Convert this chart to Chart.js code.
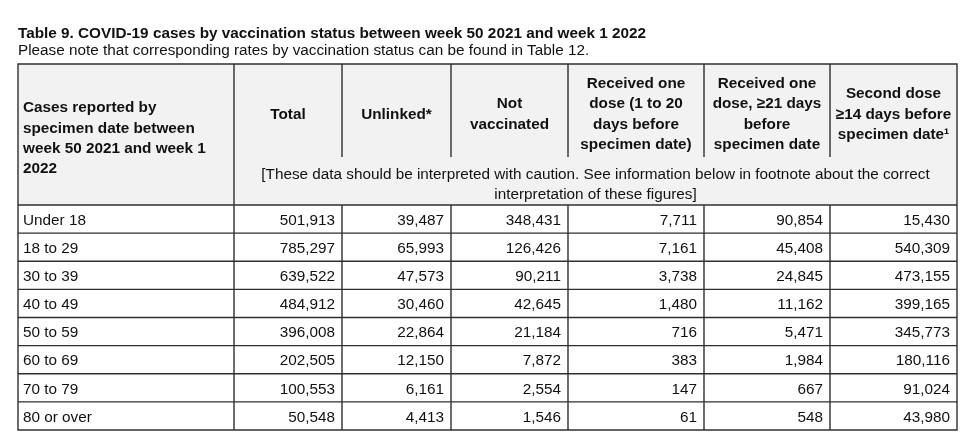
<!DOCTYPE html>
<html>
<head>
<meta charset="utf-8">
<title>Table 9</title>
<script src="https://cdn.jsdelivr.net/npm/chart.js@4.4.1/dist/chart.umd.min.js"></script>
<style>
  body { margin: 0; background: #fff; font-family: "Liberation Sans", Arial, sans-serif; color: #111; }
  #wrap { position: relative; width: 972px; height: 437px; overflow: hidden; }
  #tableChart { position: absolute; left: 0; top: 0; }
  .title, .subtitle { position: absolute; left: 18px; white-space: nowrap; font-size: 15.3px; line-height: 18px; }
  .title { top: 24px; font-weight: bold; }
  .subtitle { top: 41px; }
</style>
</head>
<body>
<div id="wrap">
  <canvas id="tableChart" width="972" height="437"></canvas>
  <div class="title">Table 9. COVID-19 cases by vaccination status between week 50 2021 and week 1 2022</div>
  <div class="subtitle">Please note that corresponding rates by vaccination status can be found in Table 12.</div>
</div>
<script>
// row categories
const ageGroups = ["Under 18", "18 to 29", "30 to 39", "40 to 49", "50 to 59", "60 to 69", "70 to 79", "80 or over"];

// column series
const totalCases = [501913, 785297, 639522, 484912, 396008, 202505, 100553, 50548];
const unlinked = [39487, 65993, 47573, 30460, 22864, 12150, 6161, 4413];
const notVaccinated = [348431, 126426, 90211, 42645, 21184, 7872, 2554, 1546];
const oneDoseUnder21 = [7711, 7161, 3738, 1480, 716, 383, 147, 61];
const oneDose21Plus = [90854, 45408, 24845, 11162, 5471, 1984, 667, 548];
const secondDose14 = [15430, 540309, 473155, 399165, 345773, 180116, 91024, 43980];

// header texts
const rowHeader = ["Cases reported by", "specimen date between", "week 50 2021 and week 1", "2022"];
const columnHeaders = [
  ["Total"],
  ["Unlinked*"],
  ["Not", "vaccinated"],
  ["Received one", "dose (1 to 20", "days before", "specimen date)"],
  ["Received one", "dose, \u226521 days", "before", "specimen date"],
  ["Second dose", "\u226514 days before", "specimen date\u00b9"],
];
const cautionLines = [
  "[These data should be interpreted with caution. See information below in footnote about the correct",
  "interpretation of these figures]",
];

const series = [totalCases, unlinked, notVaccinated, oneDoseUnder21, oneDose21Plus, secondDose14];

// layout (table units = px widths of columns)
const colEdges = [0, 216, 324, 433, 550, 686, 812, 939];
const headerHeight = 141;
const headerCellHeight = 93;
const FONT = '"Liberation Sans", Arial, sans-serif';
const FONT_SIZE = "15.3px ";
const LINE = "#303030";

const tablePlugin = {
  id: "tableDraw",
  beforeDatasetsDraw(chart) {
    const { ctx, chartArea } = chart;
    const x = chart.scales.x;
    const y = chart.scales.y;
    const left = x.getPixelForValue(colEdges[0]);
    const right = x.getPixelForValue(colEdges[colEdges.length - 1]);
    const band = y.getPixelForValue(1) - y.getPixelForValue(0);
    const top = chartArea.top - headerHeight;
    const bottom = y.getPixelForValue(ageGroups.length - 1) + band / 2;

    ctx.save();
    // header background
    ctx.fillStyle = "#f2f2f2";
    ctx.fillRect(left, top, right - left, headerHeight);

    // header text
    ctx.fillStyle = "#111";
    ctx.font = "bold " + FONT_SIZE + FONT;
    ctx.textBaseline = "middle";
    ctx.textAlign = "left";
    const rhMid = top + 74.5;
    rowHeader.forEach((t, i) => {
      ctx.fillText(t, left + 5, rhMid + (i - (rowHeader.length - 1) / 2) * 20.3);
    });
    ctx.textAlign = "center";
    const chMid = top + 50.5;
    columnHeaders.forEach((lines, c) => {
      const cx = (x.getPixelForValue(colEdges[c + 1]) + x.getPixelForValue(colEdges[c + 2])) / 2;
      lines.forEach((t, i) => {
        ctx.fillText(t, cx, chMid + (i - (lines.length - 1) / 2) * 20.5);
      });
    });

    // caution row
    ctx.font = FONT_SIZE + FONT;
    const cx = (x.getPixelForValue(colEdges[1]) + right) / 2;
    cautionLines.forEach((t, i) => {
      ctx.fillText(t, cx, top + headerHeight - 30 + i * 20);
    });

    // row labels
    ctx.textAlign = "left";
    ageGroups.forEach((g, j) => {
      ctx.fillText(g, left + 5, y.getPixelForValue(j) + 1.5);
    });

    // grid lines
    ctx.strokeStyle = LINE;
    ctx.lineWidth = 1.4;
    ctx.beginPath();
    ctx.rect(left, top, right - left, bottom - top);
    for (let j = 0; j < ageGroups.length; j++) {
      const yy = y.getPixelForValue(j) - band / 2;
      ctx.moveTo(left, yy);
      ctx.lineTo(right, yy);
    }
    const firstLine = x.getPixelForValue(colEdges[1]);
    ctx.moveTo(firstLine, top);
    ctx.lineTo(firstLine, bottom);
    for (let c = 2; c < colEdges.length - 1; c++) {
      const xx = x.getPixelForValue(colEdges[c]);
      ctx.moveTo(xx, top);
      ctx.lineTo(xx, top + headerCellHeight);
      ctx.moveTo(xx, chartArea.top);
      ctx.lineTo(xx, bottom);
    }
    ctx.stroke();
    ctx.restore();
  },
  afterDatasetsDraw(chart) {
    const { ctx } = chart;
    ctx.save();
    ctx.fillStyle = "#111";
    ctx.font = FONT_SIZE + FONT;
    ctx.textAlign = "right";
    ctx.textBaseline = "middle";
    chart.data.datasets.forEach((ds, i) => {
      const meta = chart.getDatasetMeta(i);
      meta.data.forEach((pt, j) => {
        ctx.fillText(ds.values[j].toLocaleString("en-GB"), pt.x - 7, pt.y + 1.5);
      });
    });
    ctx.restore();
  },
};

function initTable() {
  const ctx = document.getElementById("tableChart").getContext("2d");
  new Chart(ctx, {
    type: "scatter",
    data: {
      datasets: series.map((vals, i) => ({
        label: columnHeaders[i].join(" "),
        values: vals,
        data: vals.map((v, j) => ({ x: colEdges[i + 2], y: ageGroups[j] })),
        pointRadius: 0,
        pointHoverRadius: 0,
      })),
    },
    options: {
      responsive: false,
      animation: false,
      events: [],
      layout: { padding: { left: 18, right: 15, top: 205, bottom: 7 } },
      plugins: { legend: { display: false }, tooltip: { enabled: false } },
      scales: {
        x: { type: "linear", min: colEdges[0], max: colEdges[colEdges.length - 1], display: false },
        y: { type: "category", labels: ageGroups, offset: true, display: false },
      },
    },
    plugins: [tablePlugin],
  });
}

document.addEventListener("DOMContentLoaded", initTable);
</script>
</body>
</html>
